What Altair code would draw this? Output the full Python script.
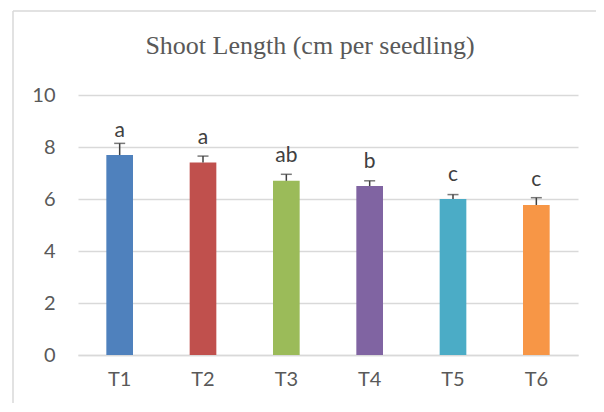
import altair as alt
import pandas as pd

treatments = ["T1", "T2", "T3", "T4", "T5", "T6"]
means = [7.69, 7.40, 6.70, 6.50, 6.00, 5.77]
errors = [0.45, 0.25, 0.25, 0.20, 0.17, 0.28]
letters = ["a", "a", "ab", "b", "c", "c"]
colors = ["#4F81BD", "#C0504D", "#9BBB59", "#8064A2", "#4BACC6", "#F79646"]
title_text = ["Shoot Length (cm per seedling)"]

df = pd.DataFrame({
    "treatment": treatments,
    "mean": means,
    "err": errors,
    "upper": [m + e for m, e in zip(means, errors)],
    "letter": letters,
})

FONT = "Lato"
xenc = alt.X("treatment:N", sort=treatments,
             scale=alt.Scale(paddingInner=0.68, paddingOuter=0.34),
             axis=alt.Axis(title=None, labelAngle=0, labelFontSize=20, labelFont=FONT,
                           labelColor="#595959", labelPadding=14, ticks=False,
                           domainColor="#d9d9d9", domainWidth=1.5, grid=False))
yscale = alt.Scale(domain=[0, 10])

base = alt.Chart(df)

bars = base.mark_bar().encode(
    x=xenc,
    y=alt.Y("mean:Q", scale=yscale,
            axis=alt.Axis(title=None, values=[0, 2, 4, 6, 8, 10], labelFontSize=20,
                          labelFont=FONT, labelColor="#595959", labelPadding=23,
                          ticks=False, domain=False, gridColor="#d9d9d9", gridWidth=1.5)),
    color=alt.Color("treatment:N", scale=alt.Scale(domain=treatments, range=colors), legend=None),
)

err_rule = base.mark_rule(color="#404040", strokeWidth=1.5).encode(
    x=alt.X("treatment:N", sort=treatments),
    y="mean:Q",
    y2="upper:Q",
)

err_cap = base.mark_tick(color="#404040", size=11, thickness=1.5).encode(
    x=alt.X("treatment:N", sort=treatments),
    y="upper:Q",
)

labels = base.mark_text(font=FONT, fontSize=21, color="#404040", baseline="alphabetic",
                        dy=-18.5).encode(
    x=alt.X("treatment:N", sort=treatments),
    y="mean:Q",
    text="letter:N",
)

deco = alt.Chart(pd.DataFrame({"title": title_text}))
border_top = deco.mark_rule(color="#d9d9d9", strokeWidth=1.5).encode(
    x=alt.value(-65), x2=alt.value(540), y=alt.value(-84)
)
border_left = deco.mark_rule(color="#d9d9d9", strokeWidth=1.5).encode(
    x=alt.value(-65), y=alt.value(-84), y2=alt.value(330)
)
title = deco.mark_text(font="Liberation Serif", fontSize=26, color="#595959",
                       align="center", baseline="alphabetic").encode(
    x=alt.value(232), y=alt.value(-41), text="title:N"
)

chart = alt.layer(border_top, border_left, title, bars, err_rule, err_cap, labels).properties(
    width=500,
    height=260,
    background="white",
    autosize=alt.AutoSizeParams(type="none"),
    padding={"left": 70, "top": 87, "right": 18, "bottom": 48},
).configure_view(strokeWidth=0, strokeOpacity=0)

chart.save("out.html", embed_options={"renderer": "svg", "actions": False})
